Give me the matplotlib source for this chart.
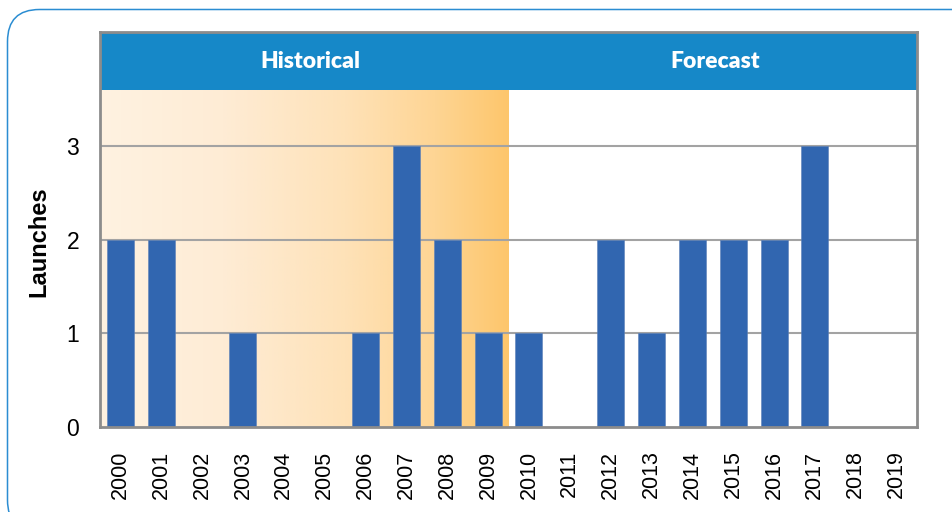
import matplotlib
matplotlib.use("Agg")
import matplotlib.pyplot as plt
import numpy as np
from matplotlib.patches import FancyBboxPatch, Rectangle
from matplotlib.colors import LinearSegmentedColormap

years = [str(y) for y in range(2000, 2020)]
launches = [2, 2, 0, 1, 0, 0, 1, 3, 2, 1, 1, 0, 2, 1, 2, 2, 2, 3, 0, 0]
yticks = [0, 1, 2, 3]
header_labels = ["Historical", "Forecast"]
n_hist = 10

DPI = 100
fig = plt.figure(figsize=(9.52, 5.12), dpi=DPI)
fig.patch.set_facecolor("white")

# rounded border (pixel coordinates)
border = FancyBboxPatch((7.5, -20), 980, 512 - 9.5 + 20,
                        boxstyle="round,pad=0,rounding_size=32",
                        transform=None, fill=False, edgecolor="#2B8DD2",
                        linewidth=1.1, zorder=0)
fig.patches.append(border)

L, R, T, B = 100, 917, 32, 427
ax = fig.add_axes([L / 952, 1 - B / 512, (R - L) / 952, (B - T) / 512])

x = np.arange(len(years))
ymax = 4.215
header_bottom = 3.6
ax.set_xlim(-0.5, len(years) - 0.5)
ax.set_ylim(0, ymax)

# gradient shading for historical region
cmap = LinearSegmentedColormap.from_list(
    "hist", [(0.0, "#FFF2E1"), (0.3, "#FEECD5"), (0.6, "#FEE2B8"),
             (0.82, "#FED594"), (1.0, "#FDC66C")])
grad = np.linspace(0, 1, 256).reshape(1, -1)
ax.imshow(grad, cmap=cmap, aspect="auto",
          extent=(-0.5, n_hist - 0.5, 0, header_bottom), zorder=0.5,
          interpolation="bilinear")

# header band
ax.add_patch(Rectangle((-0.5, header_bottom), len(years), ymax - header_bottom,
                       facecolor="#1688C8", edgecolor="none", zorder=3))
ax.text((n_hist - 1) / 2 + 0.15, (header_bottom + ymax) / 2 - 0.01,
        header_labels[0], ha="center", va="center", color="white",
        fontsize=16.5, fontweight="heavy", family="Lato", zorder=4)
ax.text((n_hist + len(years) - 1) / 2 + 0.07, (header_bottom + ymax) / 2 - 0.01,
        header_labels[1], ha="center", va="center", color="white",
        fontsize=16.5, fontweight="heavy", family="Lato", zorder=4)

# gridlines
for yv in yticks[1:]:
    ax.axhline(yv, color="#A3A3A3", linewidth=1.5, zorder=1)

ax.bar(x, launches, width=0.66, color="#3166B0", edgecolor="#5A7FB8",
       linewidth=0.4, zorder=2)

ax.set_yticks(yticks)
ax.set_yticklabels([str(v) for v in yticks], family="Liberation Sans",
                   fontsize=16.5)
ax.set_xticks(x)
ax.set_xticklabels(years, rotation=90, family="Liberation Sans", fontsize=15.5)
ax.tick_params(axis="both", length=0)
ax.tick_params(axis="y", pad=15)
ax.tick_params(axis="x", pad=17)
ax.set_ylabel("Launches", family="Liberation Sans", fontweight="bold",
              fontsize=17)
ax.yaxis.set_label_coords(-0.061, 0.468)

for s in ax.spines.values():
    s.set_color("#8C8C8C")
    s.set_linewidth(2)
    s.set_zorder(5)

fig.savefig("out.png", dpi=DPI)
